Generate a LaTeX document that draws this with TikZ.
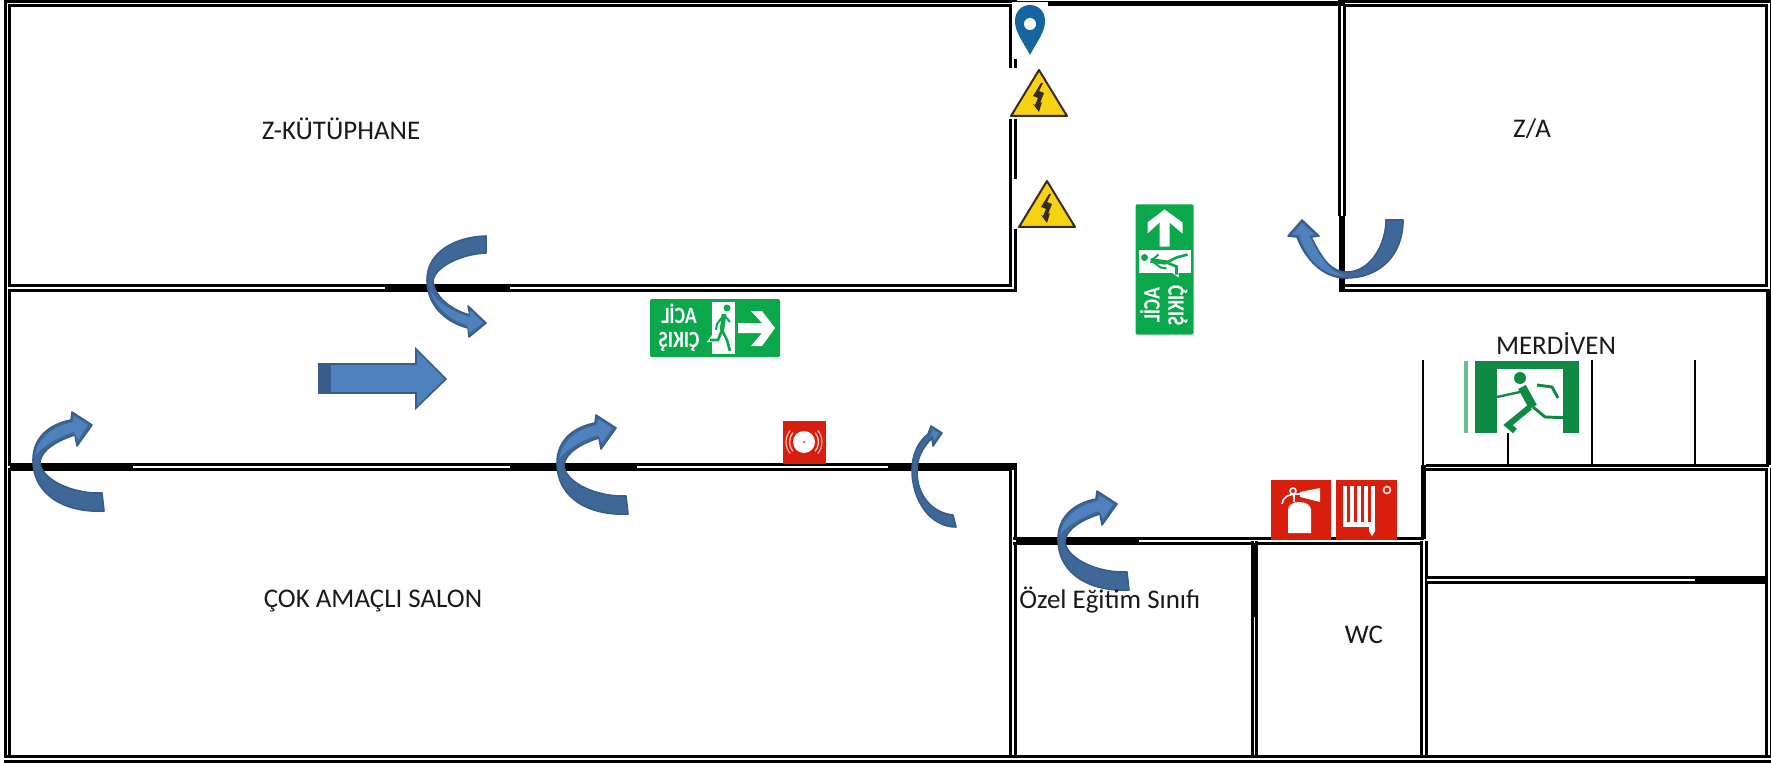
\documentclass[tikz,border=0pt]{standalone}
\usepackage{fontspec}
\setmainfont{Carlito}
\usepackage{xcolor}
\definecolor{arrowlight}{HTML}{4F81BD}
\definecolor{arrowdark}{HTML}{3F6797}
\definecolor{arrowline}{HTML}{385D8A}
\definecolor{signgreen}{HTML}{0AA84A}
\definecolor{stairgreen}{HTML}{0F8A45}
\definecolor{signred}{HTML}{D81E0D}
\definecolor{pinblue}{HTML}{16659F}
\definecolor{warnyellow}{HTML}{F6D213}
\definecolor{warnline}{HTML}{3A2A20}
\tikzset{
    wall/.style={draw=black, line width=5.6pt, line join=miter, postaction={draw=white, line width=.9pt}},
    door/.style={draw=black, line width=3.8pt},
    stairline/.style={draw=black, line width=0.8pt},
    roomlabel/.style={font=\fontsize{20.2pt}{24pt}\selectfont, inner sep=0pt, text=black!90},
    signlabel/.style={font=\fontsize{17.5pt}{20pt}\selectfont\bfseries, text=white, inner sep=0pt, anchor=base, transform shape},
    arrowbody/.style={fill=arrowdark, draw=arrowline, line width=1.2pt, line join=round},
    arrowtop/.style={fill=arrowlight},
    turnarrow/.pic={
        \path[arrowbody]
            (71,99) .. controls (35,101) and (0,85) .. (0,48)
            .. controls (0,25) and (17,12) .. (38,8) -- (39,0) -- (59,13) -- (44,34) -- (42,23)
            .. controls (25,28) and (8,38) .. (7,50)
            .. controls (7,65) and (35,82) .. (69,81) -- cycle;
        \path[arrowtop] (2,44) .. controls (5,26) and (20,14) .. (40,10) -- (41,4) -- (55,13)
            -- (45,28) -- (41,20) .. controls (25,25) and (8,35) .. (2,44) -- cycle;
    },
    warnsign/.pic={
        \fill[warnyellow, draw=warnline, line width=1.5pt, line join=round]
            (0,1) -- (28,47) -- (-28,47) -- cycle;
        \fill[warnline] (2,14) -- (-6,27) -- (-1,29) -- (-4,36) -- (-6,35) -- (0,43) -- (3,33)
            -- (1,34) -- (5,24) -- (0,22) -- (4,14) -- cycle;
    },
    exitsign/.pic={
        \fill[signgreen, rounded corners=1pt] (-65,-29) rectangle (65,29);
        \fill[white] (-3,-26) rectangle (20,26);
        \fill[white] (-8,14) -- (-3,7) -- (-3,14) -- cycle;
        \fill[white] (23,-5) -- (47,-5) -- (36,-17) -- (47,-17) -- (60,0) -- (47,18) -- (36,18)
            -- (47,5) -- (23,5) -- cycle;
        \fill[signgreen] (12,-20) circle (3.5);
        \draw[signgreen, line width=3.4pt] (9,-14) -- (7,2);
        \draw[signgreen, line width=1.5pt] (9,-13) -- (2,-4) -- (1,2) (9,-13) -- (15,-6);
        \draw[signgreen, line width=2pt] (7,2) -- (12,12) -- (15,23) (7,2) -- (3,12) -- (-5,12);
        \node[signlabel, xscale=-.84] (-acil) at (-36,-5) {ACİL};
        \node[signlabel, xscale=-.84] (-cikis) at (-36,19) {ÇIKIŞ};
    },
}

\begin{document}
\begin{tikzpicture}[x=0.75pt, y=-0.75pt]
    \useasboundingbox (0,0) rectangle (1771,763);

    % rooms
    \draw[wall] (7.5,759) -- (7.5,3.5) -- (1013,3.5) -- (1013,288) -- (7.5,288);
    \draw[wall] (1342,216) -- (1342,3.5) -- (1769,3.5) -- (1769,288) -- (1342,288);
    \draw[wall] (7.5,467) -- (1013,467) -- (1013,756);
    \draw[wall] (1013,541) -- (1424,541);
    \draw[wall] (1254.5,541) -- (1254.5,756);
    \draw[wall] (1424,541) -- (1424,756);
    \draw[wall] (1426,467.5) -- (1769,467.5);
    \draw[wall] (1427,580) -- (1769,580);
    \draw[wall] (1769,467.5) -- (1769,759);
    \draw[wall] (4,759) -- (1775,759);

    % doors
    \draw[door] (385,288) -- (510,288);
    \draw[door] (1342,216) -- (1342,292);
    \draw[door] (1013,3.5) -- (1345,3.5);
    \draw[door] (10,467) -- (133,467);
    \draw[door] (510,467) -- (637,467);
    \draw[door] (888,467) -- (1016,467);
    \draw[door] (1016,540.5) -- (1139,540.5);
    \draw[door] (1254.5,543) -- (1254.5,617);
    \draw[door] (1423.5,464.5) -- (1423.5,539);
    \draw[door] (1695,579.5) -- (1767,579.5);
    \draw[door] (1769,291) -- (1769,465);

    % stairs
    \foreach \stairx/\stairy in {1423/360, 1508/433, 1592/360, 1695/360}
        \draw[stairline] (\stairx,\stairy) -- (\stairx,465);

    % signs on the corridor wall
    \fill[white] (1012,2) rectangle (1048,59);
    \fill[white] (1007,68) rectangle (1072,119);
    \fill[white] (1012,179) rectangle (1078,229);
    \fill[pinblue] (1030,55) .. controls (1022,40) and (1015,32) .. (1015,21)
        .. controls (1015,11) and (1022,5) .. (1030,5)
        .. controls (1038,5) and (1045,11) .. (1045,21)
        .. controls (1045,32) and (1038,40) .. (1030,55) -- cycle;
    \fill[white] (1030,24) circle (6);
    \pic at (1039,69) {warnsign};
    \pic at (1047,180) {warnsign};
    \pic (hsign) at (715,328) {exitsign};
    \pic[rotate=90] (vsign) at (1164.5,269.5) {exitsign};

    % alarm
    \fill[signred] (783,421) rectangle (826,464);
    \fill[white] (804,442) circle (11);
    \fill[signred!60] (804,442) circle (1.5);
    \draw[white!75!signred, line width=1pt] (804,442) ++(140:14.5) arc (140:220:14.5);
    \draw[white!75!signred, line width=1pt] (804,442) ++(-40:14.5) arc (-40:40:14.5);
    \draw[white!65!signred, line width=.9pt] (804,442) ++(140:18) arc (140:220:18);
    \draw[white!65!signred, line width=.9pt] (804,442) ++(-40:18) arc (-40:40:18);

    % extinguisher
    \fill[signred] (1271,480) rectangle (1331,540);
    \fill[white] (1288,533) -- (1288,510) .. controls (1288,505) and (1293,502) .. (1299,502)
        .. controls (1306,502) and (1311,505) .. (1311,510) -- (1311,533) -- cycle;
    \fill[white] (1300,492) -- (1320,488) -- (1320,502) -- (1300,497) -- cycle;
    \draw[white, line width=1.2pt] (1282,504) .. controls (1283,497) and (1287,494) .. (1300,494);
    \draw[white, line width=1.2pt] (1293,491) circle (3);
    \draw[white, line width=2pt] (1294,495) -- (1294,502);

    % hose
    \fill[signred] (1336,480) rectangle (1397,540);
    \foreach \barx in {1345,1352,1359,1366,1373}
        \draw[white, line width=2.6pt] (\barx,486) -- (\barx,526);
    \fill[white] (1343,522) rectangle (1375,527);
    \fill[white] (1369,526) -- (1369,531) -- (1372,536) -- (1375,531) -- (1375,526) -- cycle;
    \draw[white!80!signred, line width=1.3pt] (1387,490) circle (3.5);

    % exit sign on the stairs
    \fill[stairgreen] (1464,361) rectangle (1579,433);
    \fill[stairgreen!60!white] (1464,361) rectangle (1468,433);
    \fill[white] (1468,361) rectangle (1475,433);
    \fill[white] (1497,369) rectangle (1563,433);
    \fill[stairgreen] (1520,378) circle (6);
    \draw[stairgreen, line width=6.5pt] (1522,387) -- (1533,407);
    \draw[stairgreen, line width=1.8pt] (1520,392) -- (1497,397);
    \draw[stairgreen, line width=2.2pt] (1537,385) -- (1552,387) -- (1558,398);
    \draw[stairgreen, line width=2.2pt] (1533,407) -- (1545,417) -- (1575,418);
    \draw[stairgreen, line width=4.5pt] (1530,407) -- (1508,425) -- (1515,431);

    % arrows
    \pic at (33,412) {turnarrow};
    \pic at (557,415) {turnarrow};
    \pic at (1058,491) {turnarrow};
    \path[arrowbody] (486,236) .. controls (455,237) and (427,252) .. (427,280)
        .. controls (427,305) and (445,322) .. (468,328) -- (469,337) -- (486,323) -- (468,306) -- (470,315)
        .. controls (450,310) and (434,295) .. (433,282)
        .. controls (433,268) and (460,254) .. (486,253) -- cycle;
    \path[arrowtop] (430,290) .. controls (436,308) and (450,320) .. (467,325) -- (469,333) -- (483,323)
        -- (470,310) -- (470,317) .. controls (452,312) and (436,302) .. (430,290) -- cycle;
    \path[arrowbody] (956,527) .. controls (930,527) and (912,500) .. (912,470)
        .. controls (912,455) and (918,442) .. (928,434) -- (931,426) -- (942,433) -- (933,446) -- (932,438)
        .. controls (922,448) and (917,458) .. (917,472)
        .. controls (917,495) and (932,513) .. (953,515) -- cycle;
    \path[arrowtop] (930,437) -- (933,430) -- (939,433) -- (934,441) -- (933,435) -- cycle;
    \path[arrowtop, draw=arrowline, line width=1.2pt] (319,364) -- (416,364) -- (416,349) -- (446,379)
        -- (416,408) -- (416,393) -- (319,393) -- cycle;
    \fill[arrowline] (318,363) rectangle (331,394);
    \path[arrowbody] (1403,220) .. controls (1403,255) and (1380,278) .. (1346,278)
        .. controls (1322,278) and (1305,258) .. (1297,237) -- (1288,236) -- (1302,220) -- (1319,236) -- (1311,237)
        .. controls (1322,258) and (1330,272) .. (1347,272)
        .. controls (1370,272) and (1386,245) .. (1386,220) -- cycle;
    \path[arrowtop] (1345,276) .. controls (1322,276) and (1306,258) .. (1299,235) -- (1292,235) -- (1302,223)
        -- (1315,235) -- (1309,235) .. controls (1320,258) and (1330,272) .. (1345,276) -- cycle;

    % labels
    \node[roomlabel] (zlib) at (341,129) {Z-KÜTÜPHANE};
    \node[roomlabel] (za) at (1532,129) {Z/A};
    \node[roomlabel] (stairs) at (1556,344) {MERDİVEN};
    \node[roomlabel] (hall) at (373,601) {ÇOK AMAÇLI SALON};
    \node[roomlabel, anchor=base west] (special) at (1019,608) {Özel Eğitim Sınıfı};
    \node[roomlabel] (wc) at (1364,635) {WC};
\end{tikzpicture}
\end{document}
